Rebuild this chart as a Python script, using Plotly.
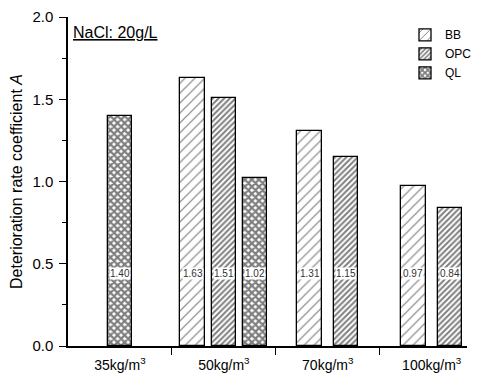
import plotly.graph_objects as go

categories = ["35kg/m<sup>3</sup>", "50kg/m<sup>3</sup>", "70kg/m<sup>3</sup>", "100kg/m<sup>3</sup>"]
series_names = ["BB", "OPC", "QL"]
bb_values = [None, 1.63, 1.31, 0.97]
opc_values = [None, 1.51, 1.15, 0.84]
ql_values = [1.40, 1.02, None, None]
y_ticks = [0.0, 0.5, 1.0, 1.5, 2.0]

series_values = [bb_values, opc_values, ql_values]
patterns = [
    dict(shape="/", size=7, solidity=0.17, fgcolor="black", bgcolor="white"),
    dict(shape="/", size=4, solidity=0.5, fgcolor="black", bgcolor="white"),
    dict(shape="x", size=5, solidity=0.7, fgcolor="black", bgcolor="white"),
]

FONT = "Arial, Liberation Sans, sans-serif"
bar_w = 0.235

# compute bar positions: bars present in each group are centred in the group
positions = [[None] * len(categories) for _ in series_names]
for g in range(len(categories)):
    present = [s for s in range(len(series_names)) if series_values[s][g] is not None]
    n = len(present)
    step = 0.30 if n >= 3 else 0.35
    for j, s in enumerate(present):
        positions[s][g] = g + (j - (n - 1) / 2) * step

fig = go.Figure()
annotations = []
for s, name in enumerate(series_names):
    xs = [positions[s][g] for g in range(len(categories)) if series_values[s][g] is not None]
    ys = [v for v in series_values[s] if v is not None]
    fig.add_trace(go.Bar(
        x=xs, y=ys, name=name, width=bar_w,
        marker=dict(color="white", line=dict(color="black", width=1.3), pattern=patterns[s]),
    ))
    for x, y in zip(xs, ys):
        annotations.append(dict(
            x=x, y=0.44, xref="x", yref="y", text=f"{y:.2f}", showarrow=False,
            font=dict(family=FONT, size=10, color="#333"), bgcolor="white", borderpad=0,
        ))

annotations.append(dict(
    x=0.008, y=0.985, xref="paper", yref="paper", xanchor="left", yanchor="top",
    text="<u>NaCl: 20g/L</u>", showarrow=False, font=dict(family=FONT, size=16, color="black"),
))

n = len(categories)
fig.update_layout(
    width=477, height=376,
    margin=dict(l=68, r=0, t=17, b=30),
    paper_bgcolor="white", plot_bgcolor="white",
    font=dict(family=FONT, color="black"),
    showlegend=True,
    legend=dict(x=0.845, y=0.99, xanchor="left", yanchor="top", bgcolor="rgba(0,0,0,0)",
                font=dict(family=FONT, size=12), tracegroupgap=0, itemwidth=30),
    annotations=annotations,
    bargap=0,
    xaxis=dict(
        range=[-0.5, 3.34], tickmode="array", tickvals=list(range(n)), ticktext=categories,
        ticks="", showline=True, linecolor="black", linewidth=1.5, showgrid=False, zeroline=False,
        tickfont=dict(family=FONT, size=14), ticklabelstandoff=5,
        minor=dict(tickmode="array", tickvals=[g + 0.5 for g in range(n - 1)], ticks="outside",
                   ticklen=7, tickcolor="black", tickwidth=1.2, showgrid=False),
    ),
    yaxis=dict(
        range=[0, 2.0], tickmode="array", tickvals=y_ticks, ticktext=[f"{v:.1f}" for v in y_ticks],
        ticks="outside", ticklen=7, tickwidth=1.2, tickcolor="black",
        showline=True, linecolor="black", linewidth=1.5, showgrid=False, zeroline=False,
        tickfont=dict(family=FONT, size=15), ticklabelstandoff=3,
        minor=dict(dtick=0.25, ticks="outside", ticklen=4, tickcolor="black", showgrid=False),
        title=dict(text="Deterioration rate coefficient <i>A</i>", font=dict(family=FONT, size=16), standoff=6),
    ),
)

fig.write_html("out.html")
